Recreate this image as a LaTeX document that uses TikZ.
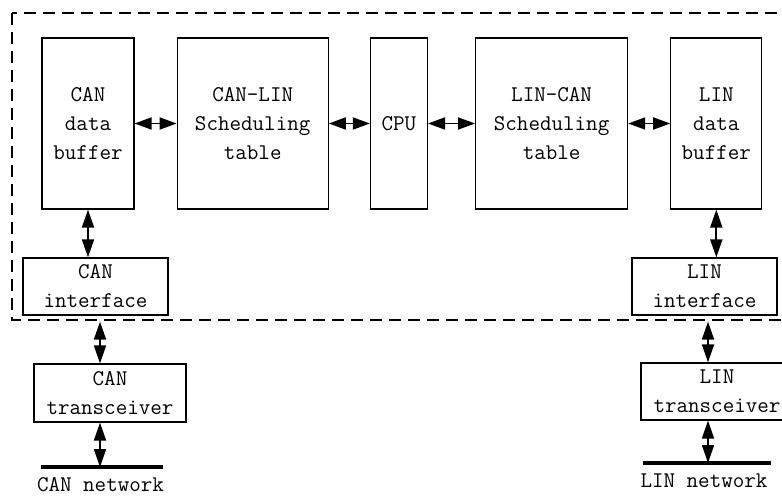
\documentclass[tikz,border=0pt]{standalone}
\usetikzlibrary{positioning,arrows.meta}
\tikzset{
  blk/.style={draw, line width=1.2bp, align=center, inner sep=1bp,
              font=\ttfamily\fontsize{22.5}{29}\selectfont},
  tall/.style={blk, minimum height=171bp},
  flat/.style={blk, minimum height=57bp},
  harr/.style={{Triangle[length=17bp,width=12bp]}-{Triangle[length=17bp,width=12bp]}, line width=1.8bp},
  varr/.style={{Triangle[length=18bp,width=12bp]}-{Triangle[length=18bp,width=12bp]}, line width=1.8bp},
  bus/.style={line width=4bp},
  lbl/.style={font=\ttfamily\fontsize{22.5}{29}\selectfont, inner sep=0pt},
}
\begin{document}
\begin{tikzpicture}[x=1bp, y=-1bp]
  \useasboundingbox (0,0) rectangle (782,497);
  \clip (0,0) rectangle (782,497);

  % gateway boundary (runs off the right edge)
  \draw[line width=1.2bp, dash pattern=on 12bp off 7bp] (12,13) rectangle (800,320);

  % ---- main row --------------------------------------------------------
  \node[tall, minimum width=92bp] (canbuf) at (88,123.5) {CAN\\data\\buffer};
  \node[tall, minimum width=151bp, right=42bp of canbuf] (canlin) {CAN-LIN\\Scheduling\\table};
  \node[tall, minimum width=57bp, right=41bp of canlin] (cpu) {CPU};
  \node[tall, minimum width=152bp, right=47bp of cpu] (lincan) {LIN-CAN\\Scheduling\\table};
  \node[tall, minimum width=91bp, right=42bp of lincan] (linbuf) {LIN\\data\\buffer};

  \draw[harr] (canbuf) -- (canlin);
  \draw[harr] (canlin) -- (cpu);
  \draw[harr] (cpu) -- (lincan);
  \draw[harr] (lincan) -- (linbuf);

  % ---- CAN side --------------------------------------------------------
  \node[flat, minimum width=145bp] (canif) at (95.5,286.5) {CAN\\interface};
  \node[flat, minimum width=152bp, minimum height=58bp] (cantr) at (110,393) {CAN\\transceiver};
  \coordinate (canbusL) at (41,467);
  \coordinate (canbusR) at (163,467);
  \coordinate (canmid) at (100,467);
  \draw[bus] (canbusL) -- (canbusR);
  \node[lbl] (cannet) at (100.5,484.5) {CAN network};

  \draw[varr] (canbuf.south) -- (canbuf.south |- canif.north);
  \draw[varr, shorten <=6bp] (canmid |- canif.south) -- (canmid |- cantr.north);
  \draw[varr] (canmid |- cantr.south) -- (canmid);

  % ---- LIN side --------------------------------------------------------
  \node[flat, minimum width=145bp] (linif) at (704.5,286.5) {LIN\\interface};
  \node[flat, minimum width=152bp] (lintr) at (717,391.5) {LIN\\transceiver};
  \coordinate (linbusL) at (643,463);
  \coordinate (linbusR) at (771,463);
  \coordinate (linmid) at (708,463);
  \draw[bus] (linbusL) -- (linbusR);
  \node[lbl] (linnet) at (704,481) {LIN network};

  \draw[varr] (linbuf.south) -- (linbuf.south |- linif.north);
  \draw[varr, shorten <=6bp] (linmid |- linif.south) -- (linmid |- lintr.north);
  \draw[varr] (linmid |- lintr.south) -- (linmid);
\end{tikzpicture}
\end{document}
